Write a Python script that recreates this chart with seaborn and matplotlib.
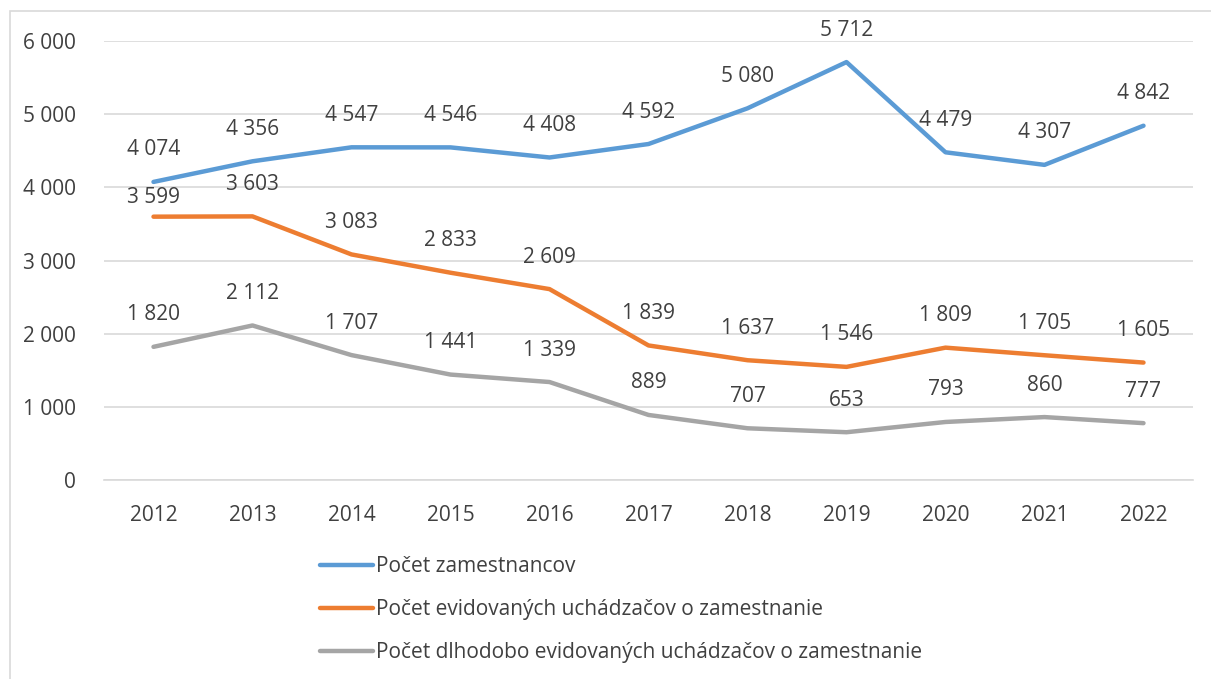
import pandas as pd
import numpy as np
import matplotlib.pyplot as plt
import seaborn as sns
from matplotlib.patches import Rectangle
from matplotlib.ticker import FuncFormatter

years = [2012, 2013, 2014, 2015, 2016, 2017, 2018, 2019, 2020, 2021, 2022]
zamestnanci = [4074, 4356, 4547, 4546, 4408, 4592, 5080, 5712, 4479, 4307, 4842]
uchadzaci = [3599, 3603, 3083, 2833, 2609, 1839, 1637, 1546, 1809, 1705, 1605]
dlhodobi = [1820, 2112, 1707, 1441, 1339, 889, 707, 653, 793, 860, 777]

series_names = ['Počet zamestnancov',
                'Počet evidovaných uchádzačov o zamestnanie',
                'Počet dlhodobo evidovaných uchádzačov o zamestnanie']
colors = ['#5B9BD5', '#ED7D31', '#A5A5A5']

df = pd.DataFrame({'rok': [str(y) for y in years] * 3,
                   'hodnota': zamestnanci + uchadzaci + dlhodobi,
                   'ukazovatel': [n for n in series_names for _ in years]})

sns.set_style('white')
plt.rcParams['font.family'] = ['Open Sans', 'DejaVu Sans']
txt = '#404040'
fs = 15

fig = plt.figure(figsize=(12.11, 6.79), dpi=100)
ax = fig.add_axes([104 / 1211, 1 - 480 / 679, (1193 - 104) / 1211, (480 - 41) / 679])

sns.lineplot(data=df, x='rok', y='hodnota', hue='ukazovatel', palette=colors,
             linewidth=3.2, ax=ax, sort=False, legend=True)

def fmt(v):
    return f'{int(v):,}'.replace(',', ' ')

# data labels above points
for i, (name, vals) in enumerate(zip(series_names, [zamestnanci, uchadzaci, dlhodobi])):
    for j, v in enumerate(vals):
        off = 32
        if i == 1 and j == 0:
            off = 19
        ax.annotate(fmt(v), (j, v), xytext=(0, off), textcoords='offset pixels',
                    ha='center', va='center', fontsize=fs, color=txt)

ax.set_xlim(-0.5, len(years) - 0.5)
ax.set_ylim(0, 6000)
ax.set_yticks(range(0, 6001, 1000))
ax.yaxis.set_major_formatter(FuncFormatter(lambda v, p: fmt(v)))
ax.grid(axis='y', color='#D9D9D9', linewidth=1.2)
ax.set_axisbelow(True)
for s in ['top', 'right', 'left']:
    ax.spines[s].set_visible(False)
ax.spines['bottom'].set_color('#D9D9D9')
ax.spines['bottom'].set_linewidth(1.2)
ax.tick_params(axis='both', length=0, labelsize=fs, colors=txt)
ax.tick_params(axis='x', pad=18)
ax.tick_params(axis='y', pad=20)
ax.set_xlabel('')
ax.set_ylabel('')

handles, labels = ax.get_legend_handles_labels()
ax.legend_.remove()
fig.legend(handles, labels, loc='upper left', bbox_to_anchor=(312 / 1211, 1 - 548 / 679),
           frameon=False, fontsize=fs, labelcolor=txt, handlelength=2.55,
           handletextpad=0.1, labelspacing=1.05, borderaxespad=0)

fig.patches.append(Rectangle((10 / 1211, -0.1), 1.2, 1.1 - 11 / 679,
                             transform=fig.transFigure, fill=False,
                             edgecolor='#D9D9D9', linewidth=1.2))

fig.savefig('out.png', dpi=100)
